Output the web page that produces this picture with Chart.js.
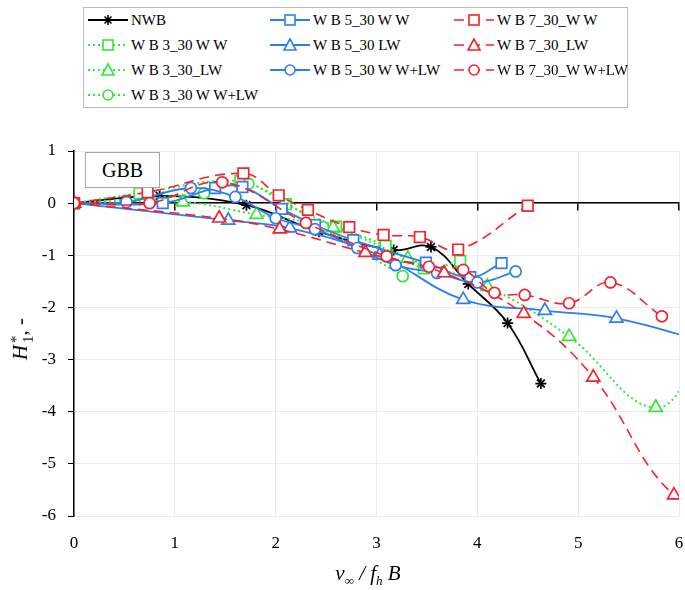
<!DOCTYPE html>
<html>
<head>
<meta charset="utf-8">
<script src="https://cdn.jsdelivr.net/npm/chart.js@4.4.1/dist/chart.umd.min.js"></script>
<style>
  body { margin: 0; background: #fff; }
  #wrap { position: relative; width: 685px; height: 590px; font-family: "Liberation Serif", "Times New Roman", serif; color: #000; }
  #c { position: absolute; left: 0; top: 0; }
  #legend { position: absolute; left: 83px; top: 7px; width: 543px; height: 99px; border: 1px solid #bdbdbd; background: #fff; }
  .item { position: absolute; height: 20px; display: flex; align-items: center; font-size: 15px; white-space: nowrap; }
  .item svg { margin-right: 3px; }
  #gbb { position: absolute; left: 85px; top: 152px; width: 73px; height: 34px; border: 1px solid #a6a6a6; background: #fff; font-size: 20px; text-align: center; line-height: 34px; }
  #xtitle { position: absolute; left: 268px; width: 200px; top: 561px; text-align: center; font-size: 21px; }
  #ytitle { position: absolute; left: -79px; width: 200px; top: 326px; text-align: center; font-size: 21px; transform: rotate(-90deg); }
  .stk { display: inline-block; vertical-align: middle; font-size: 15px; line-height: 12px; text-align: left; font-style: normal; margin-left: 2px; }
  .stk span { display: block; }
</style>
</head>
<body>
<div id="wrap">
  <canvas id="c" width="685" height="590"></canvas>
  <div id="legend"></div>
  <div id="gbb">GBB</div>
  <div id="xtitle"><i>v</i><sub style="font-size:13px">∞</sub> <i>/ f<sub style="font-size:13px">h</sub> B</i></div>
  <div id="ytitle"><i>H</i><span class="stk"><span>*</span><span>1</span></span>, -</div>
</div>
<script>
// values (x = v/fB, y = H1*)
var labels = ['NWB', 'W B 3_30 W W', 'W B 3_30_LW', 'W B 3_30 W W+LW',
              'W B 5_30 W W', 'W B 5_30 LW', 'W B 5_30 W W+LW',
              'W B 7_30_W W', 'W B 7_30_LW', 'W B 7_30_W W+LW'];

var xNWB = [0, 0.85, 1.71, 2.43, 3.17, 3.54, 3.91, 4.30, 4.63];
var yNWB = [0, 0.14, -0.04, -0.55, -0.90, -0.84, -1.55, -2.30, -3.46];

var x3WW = [0, 0.65, 1.65, 2.10, 2.60, 3.09, 3.47, 3.83];
var y3WW = [0, 0.19, 0.42, -0.02, -0.45, -0.82, -1.25, -1.11];
var x3LW = [0, 1.08, 1.81, 2.57, 3.31, 4.10, 4.91, 5.77, 6.30];
var y3LW = [0, 0.02, -0.22, -0.47, -1.06, -1.60, -2.56, -3.92, -2.60];
var x3WL = [0, 1.29, 1.73, 2.47, 3.26];
var y3WL = [0, 0.19, 0.37, -0.46, -1.40];

var x5WW = [0, 0.88, 1.40, 1.67, 2.06, 2.39, 2.77, 3.49, 3.93, 4.24];
var y5WW = [0, 0.00, 0.29, 0.31, -0.11, -0.42, -0.71, -1.14, -1.42, -1.15];
var x5LW = [0, 1.53, 2.14, 3.03, 3.86, 4.67, 5.38, 6.30];
var y5LW = [0, -0.33, -0.48, -1.00, -1.85, -2.06, -2.21, -2.68];
var x5WL = [0, 0.52, 1.16, 1.60, 2.00, 2.39, 2.81, 3.19, 3.60, 4.00, 4.38];
var y5WL = [0, 0.02, 0.29, 0.12, -0.29, -0.50, -0.86, -1.19, -1.34, -1.52, -1.31];

var x7WW = [0, 0.73, 1.68, 2.03, 2.32, 2.73, 3.07, 3.43, 3.81, 4.50];
var y7WW = [0, 0.21, 0.57, 0.15, -0.13, -0.46, -0.61, -0.65, -0.89, -0.05];
var x7LW = [0, 1.44, 2.04, 2.89, 3.67, 4.46, 5.15, 5.95, 6.50];
var y7LW = [0, -0.29, -0.50, -0.95, -1.34, -2.12, -3.34, -5.60, -5.70];
var x7WL = [0, 0.75, 1.47, 2.30, 3.10, 3.52, 3.86, 4.17, 4.47, 4.91, 5.32, 5.83];
var y7WL = [0, 0.00, 0.40, -0.38, -1.02, -1.22, -1.28, -1.72, -1.76, -1.92, -1.52, -2.17];

var xTicks = [0, 1, 2, 3, 4, 5, 6];
var yTicks = [1, 0, -1, -2, -3, -4, -5, -6];

var BLACK = '#000000', GREEN = '#33e833', BLUE = '#2d7ff0', RED = '#f5222d';
var FONT = 'Liberation Serif, serif';

function pts(xs, ys) {
  return xs.map(function (x, i) { return { x: x, y: ys[i] }; });
}

function series(label, xs, ys, color, style, dash) {
  var radius = style === 'rect' ? 7.5 : (style === 'triangle' ? 7.5 : 5.5);
  return {
    label: label,
    data: pts(xs, ys),
    borderColor: color,
    backgroundColor: color,
    borderWidth: dash ? (dash[0] < 4 ? 2 : 1.6) : 1.8,
    borderDash: dash || [],
    tension: 0.4,
    pointStyle: style,
    pointRadius: radius,
    pointHoverRadius: radius,
    pointBorderWidth: 1.7,
    pointBorderColor: color,
    pointBackgroundColor: style === 'star' ? color : '#ffffff',
    fill: false,
    xAxisID: 'x',
    yAxisID: 'y'
  };
}

var datasets = [
  series(labels[0], xNWB, yNWB, BLACK, 'star'),
  series(labels[1], x3WW, y3WW, GREEN, 'rect', [2, 3]),
  series(labels[2], x3LW, y3LW, GREEN, 'triangle', [2, 3]),
  series(labels[3], x3WL, y3WL, GREEN, 'circle', [2, 3]),
  series(labels[4], x5WW, y5WW, BLUE, 'rect'),
  series(labels[5], x5LW, y5LW, BLUE, 'triangle'),
  series(labels[6], x5WL, y5WL, BLUE, 'circle'),
  series(labels[7], x7WW, y7WW, RED, 'rect', [10, 6]),
  series(labels[8], x7LW, y7LW, RED, 'triangle', [10, 6]),
  series(labels[9], x7WL, y7WL, RED, 'circle', [10, 6])
];
// later series drawn on top, like the spreadsheet
datasets.forEach(function (d, i) { d.order = datasets.length - i; });

function noSidePad(s) { s.paddingLeft = 0; s.paddingRight = 0; }

function draw() {
  new Chart(document.getElementById('c'), {
    type: 'line',
    data: { datasets: datasets },
    options: {
      responsive: false,
      animation: false,
      layout: { autoPadding: false, padding: { top: 151, right: 6, left: 0, bottom: 0 } },
      plugins: { legend: { display: false }, tooltip: { enabled: false } },
      scales: {
        x: {
          type: 'linear', position: 'bottom', min: 0, max: 6,
          afterBuildTicks: function (s) { s.ticks = xTicks.map(function (v) { return { value: v }; }); },
          ticks: { padding: 17, maxRotation: 0, color: '#000', font: { family: FONT, size: 17 } },
          grid: { color: '#ececec', drawTicks: false },
          border: { display: false },
          afterFit: function (s) { s.height = 74; noSidePad(s); }
        },
        y: {
          type: 'linear', position: 'left', min: -6, max: 1,
          afterBuildTicks: function (s) { s.ticks = yTicks.map(function (v) { return { value: v }; }); },
          ticks: { padding: 12, color: '#000', font: { family: FONT, size: 17 } },
          grid: { color: '#ececec', tickColor: '#000', tickLength: 6 },
          border: { color: '#000', width: 1.5 },
          afterFit: function (s) { s.width = 74; s.paddingTop = 0; s.paddingBottom = 0; }
        },
        x0: {
          type: 'linear', axis: 'x', position: { y: 0 }, min: 0, max: 6,
          afterBuildTicks: function (s) { s.ticks = xTicks.map(function (v) { return { value: v }; }); },
          ticks: { display: false },
          grid: { drawOnChartArea: false, tickColor: '#000', tickLength: 7, lineWidth: 1.5 },
          border: { color: '#000', width: 1.5 },
          afterFit: noSidePad
        }
      }
    }
  });
}

// legend laid out in columns like the original
function sample(d) {
  var c = d.borderColor;
  var dash = d.borderDash.length ? ' stroke-dasharray="' + d.borderDash.join(',') + '"' : '';
  var s = '<svg width="40" height="16">';
  s += '<line x1="0" y1="8" x2="40" y2="8" stroke="' + c + '" stroke-width="' + d.borderWidth + '"' + dash + '/>';
  var m = ' fill="#fff" stroke="' + c + '" stroke-width="1.6"';
  if (d.pointStyle === 'rect') s += '<rect x="15" y="3" width="10" height="10"' + m + '/>';
  if (d.pointStyle === 'circle') s += '<circle cx="20" cy="8" r="5"' + m + '/>';
  if (d.pointStyle === 'triangle') s += '<polygon points="20,2 26,13 14,13"' + m + '/>';
  if (d.pointStyle === 'star') {
    s += '<path d="M15,8 H25 M20,3 V13 M16.5,4.5 L23.5,11.5 M23.5,4.5 L16.5,11.5" stroke="' + c + '" stroke-width="1.6"/>';
  }
  return s + '</svg>';
}

var cols = [[0, 1, 2, 3], [4, 5, 6], [7, 8, 9]];
var colX = [4, 186, 370];
var rowY = [2, 27, 52, 77];
var leg = document.getElementById('legend');
cols.forEach(function (col, ci) {
  col.forEach(function (di, ri) {
    var el = document.createElement('div');
    el.className = 'item';
    el.style.left = colX[ci] + 'px';
    el.style.top = rowY[ri] + 'px';
    el.innerHTML = sample(datasets[di]) + '<span>' + datasets[di].label + '</span>';
    leg.appendChild(el);
  });
});

if (document.fonts && document.fonts.load) {
  document.fonts.load('17px "Liberation Serif"').then(draw, draw);
} else {
  draw();
}
</script>
</body>
</html>
